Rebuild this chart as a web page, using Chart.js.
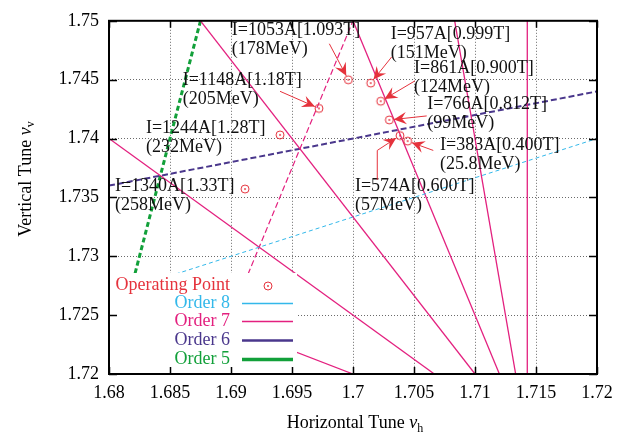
<!DOCTYPE html>
<html><head><meta charset="utf-8">
<script src="https://cdn.jsdelivr.net/npm/chart.js@4/dist/chart.umd.min.js"></script>
<style>html,body{margin:0;padding:0;background:#fff;}#wrap{width:628px;height:434px;position:relative;}</style>
</head><body><div id="wrap"><canvas id="c"></canvas></div>
<script>
// ---------- data ----------
const xTickValues = [1.68, 1.685, 1.69, 1.695, 1.70, 1.705, 1.71, 1.715, 1.72];
const xTickLabels = ['1.68', '1.685', '1.69', '1.695', '1.7', '1.705', '1.71', '1.715', '1.72'];
const yTickValues = [1.72, 1.725, 1.73, 1.735, 1.74, 1.745, 1.75];
const yTickLabels = ['1.72', '1.725', '1.73', '1.735', '1.74', '1.745', '1.75'];

// operating points
const pointCurrent = ['I=383A[0.400T]', 'I=574A[0.600T]', 'I=766A[0.812T]', 'I=861A[0.900T]', 'I=957A[0.999T]',
                      'I=1053A[1.093T]', 'I=1148A[1.18T]', 'I=1244A[1.28T]', 'I=1340A[1.33T]'];
const pointEnergy = ['(25.8MeV)', '(57MeV)', '(99MeV)', '(124MeV)', '(151MeV)', '(178MeV)', '(205MeV)', '(232MeV)', '(258MeV)'];
const tuneH = [1.70448, 1.70385, 1.70298, 1.70227, 1.70145, 1.69962, 1.69721, 1.69402, 1.69115];
const tuneV = [1.73978, 1.74025, 1.74158, 1.74317, 1.74471, 1.74499, 1.74256, 1.74031, 1.73571];

// resonance lines (endpoints in tune space)
const order5H = [1.68, 1.6875];      const order5V = [1.72, 1.75];
const order6H = [1.68, 1.72];        const order6V = [1.736, 1.744];
const order8H = [1.68, 1.72];        const order8V = [1.726667, 1.74];
const order7SolidH = [[1.714286, 1.714286], [1.708333, 1.713333], [1.70, 1.712], [1.6875, 1.71], [1.68, 1.706667], [1.68, 1.70]];
const order7SolidV = [[1.72, 1.75], [1.75, 1.72], [1.75, 1.72], [1.75, 1.72], [1.74, 1.72], [1.728, 1.72]];
const order7DashedH = [1.688, 1.70]; const order7DashedV = [1.72, 1.75];

// ---------- annotation placement (label anchors / arrow tails, tune space) ----------
const labelAnchor = [[1.70713, 1.73941], [1.70016, 1.73594], [1.70609, 1.74295], [1.70500, 1.74596], [1.70309, 1.74889],
                     [1.69006, 1.74916], [1.68604, 1.74499], [1.68303, 1.74087], [1.68049, 1.73594]];
const arrowPath = [[[1.70658, 1.73899]], [[1.70199, 1.73649], [1.70199, 1.73899]], [[1.70604, 1.74192]], [[1.70508, 1.74490]],
                   [[1.70317, 1.74693]], [[1.69806, 1.74805]], [[1.69402, 1.74401]], null, null];

// ---------- styles ----------
const RED = '#e5323c', CYAN = '#33b8ea', MAG = '#e3207f', PURP = '#4a378c', GREEN = '#12a03a';
const FONT = "'Liberation Serif', 'Times New Roman', serif";

const ptCanvas = document.createElement('canvas');
ptCanvas.width = 12; ptCanvas.height = 12;
(function () {
  const g = ptCanvas.getContext('2d');
  g.strokeStyle = RED; g.lineWidth = 1;
  g.beginPath(); g.arc(6, 6, 4, 0, Math.PI * 2); g.stroke();
  g.fillStyle = RED; g.beginPath(); g.arc(6, 6, 0.9, 0, Math.PI * 2); g.fill();
})();

function seg(h, v) { return [{x: h[0], y: v[0]}, {x: h[1], y: v[1]}]; }
function lineDs(h, v, color, width, dash) {
  return {data: seg(h, v), showLine: true, pointRadius: 0, borderColor: color, borderWidth: width,
          borderDash: dash || [], fill: false, backgroundColor: color};
}

const datasets = [
  {label: 'Operating Point', data: tuneH.map((h, i) => ({x: h, y: tuneV[i]})), showLine: false,
   pointStyle: ptCanvas, pointRadius: 5},
  lineDs(order8H, order8V, CYAN, 1, [4, 3]),
];
order7SolidH.forEach((h, i) => datasets.push(lineDs(h, order7SolidV[i], MAG, 1.3)));
datasets.push(lineDs(order7DashedH, order7DashedV, MAG, 1.2, [6, 3]));
datasets.push(lineDs(order6H, order6V, PURP, 2, [6, 3]));
datasets.push(lineDs(order5H, order5V, GREEN, 3, [5, 3]));

function arrowHead(ctx, x0, y0, x1, y1) {
  const a = Math.atan2(y1 - y0, x1 - x0), L = 14, W = 0.45, B = 8;
  ctx.beginPath();
  ctx.moveTo(x1, y1);
  ctx.lineTo(x1 - L * Math.cos(a - W), y1 - L * Math.sin(a - W));
  ctx.lineTo(x1 - B * Math.cos(a), y1 - B * Math.sin(a));
  ctx.lineTo(x1 - L * Math.cos(a + W), y1 - L * Math.sin(a + W));
  ctx.closePath(); ctx.fill();
}

const overlay = {
  id: 'overlay',
  afterDatasetsDraw(chart) {
    const ctx = chart.ctx, xs = chart.scales.x, ys = chart.scales.y, ca = chart.chartArea;
    ctx.save();
    // opaque key box
    const bx = ca.left, by = ca.bottom - 101, bw = 188, bh = 101;
    ctx.fillStyle = '#fff'; ctx.fillRect(bx, by, bw, bh);
    const rows = [12, 30, 48, 67, 86].map(d => Math.round(by + d) + 0.5);
    const tx = bx + 121, s0 = bx + 133, s1 = bx + 184;
    ctx.font = '18px ' + FONT; ctx.textAlign = 'right'; ctx.textBaseline = 'middle';
    const entries = [['Operating Point', RED, 0], ['Order 8', CYAN, 1.3], ['Order 7', MAG, 1.5], ['Order 6', PURP, 2.5], ['Order 5', GREEN, 3.5]];
    entries.forEach((e, i) => {
      ctx.fillStyle = e[1]; ctx.fillText(e[0], tx, rows[i]);
      if (e[2] === 0) {
        ctx.drawImage(ptCanvas, Math.round((s0 + s1) / 2) - 6, Math.round(rows[i]) - 6);
      } else {
        ctx.strokeStyle = e[1]; ctx.lineWidth = e[2]; ctx.setLineDash([]);
        ctx.beginPath(); ctx.moveTo(s0, rows[i]); ctx.lineTo(s1, rows[i]); ctx.stroke();
      }
    });
    // labels
    ctx.textAlign = 'left'; ctx.fillStyle = '#111';
    pointCurrent.forEach((t, i) => {
      const px = xs.getPixelForValue(labelAnchor[i][0]), py = ys.getPixelForValue(labelAnchor[i][1]);
      ctx.fillText(t, px, py);
      ctx.fillText(pointEnergy[i], px, py + 19);
    });
    // arrows
    ctx.strokeStyle = RED; ctx.fillStyle = RED; ctx.lineWidth = 1;
    arrowPath.forEach((p, i) => {
      if (!p) return;
      const pts = p.map(q => [xs.getPixelForValue(q[0]), ys.getPixelForValue(q[1])]);
      const cx = xs.getPixelForValue(tuneH[i]), cy = ys.getPixelForValue(tuneV[i]);
      const last = pts[pts.length - 1];
      const d = Math.hypot(cx - last[0], cy - last[1]);
      const ex = cx - (cx - last[0]) / d * 4.5, ey = cy - (cy - last[1]) / d * 4.5;
      ctx.beginPath(); ctx.moveTo(pts[0][0], pts[0][1]);
      for (let k = 1; k < pts.length; k++) ctx.lineTo(pts[k][0], pts[k][1]);
      ctx.lineTo(ex, ey); ctx.stroke();
      arrowHead(ctx, last[0], last[1], ex, ey);
    });
    ctx.restore();
  },
  afterDraw(chart) {
    const ctx = chart.ctx, xs = chart.scales.x, ys = chart.scales.y, ca = chart.chartArea;
    ctx.save();
    // ticks (inward, mirrored)
    ctx.strokeStyle = '#000'; ctx.lineWidth = 1.5; ctx.setLineDash([]);
    ctx.beginPath();
    xTickValues.forEach(v => {
      const x = Math.round(xs.getPixelForValue(v)) + 0.5;
      ctx.moveTo(x, ca.bottom); ctx.lineTo(x, ca.bottom - 7);
      ctx.moveTo(x, ca.top); ctx.lineTo(x, ca.top + 7);
    });
    yTickValues.forEach(v => {
      const y = Math.round(ys.getPixelForValue(v)) + 0.5;
      ctx.moveTo(ca.left, y); ctx.lineTo(ca.left + 8, y);
      ctx.moveTo(ca.right, y); ctx.lineTo(ca.right - 8, y);
    });
    ctx.stroke();
    // border
    ctx.lineWidth = 2;
    ctx.strokeRect(ca.left, ca.top, ca.right - ca.left, ca.bottom - ca.top);
    // axis titles
    ctx.fillStyle = '#000'; ctx.textBaseline = 'alphabetic'; ctx.textAlign = 'left';
    const drawTitle = (main, sub, cx, cy) => {
      ctx.font = '18px ' + FONT; const w1 = ctx.measureText(main).width;
      ctx.font = 'italic 18px ' + FONT; const w2 = ctx.measureText('ν').width;
      ctx.font = '12px ' + FONT; const w3 = ctx.measureText(sub).width;
      let x = cx - (w1 + w2 + w3) / 2;
      ctx.font = '18px ' + FONT; ctx.fillText(main, x, cy); x += w1;
      ctx.font = 'italic 18px ' + FONT; ctx.fillText('ν', x, cy); x += w2;
      ctx.font = '12px ' + FONT; ctx.fillText(sub, x, cy + 3.5);
    };
    drawTitle('Horizontal Tune ', 'h', (ca.left + ca.right) / 2 + 2, 428);
    ctx.save(); ctx.translate(30.5, 0); ctx.rotate(-Math.PI / 2);
    drawTitle('Vertical Tune ', 'v', -179, 0);
    ctx.restore();
    ctx.restore();
  }
};

const tickFont = {family: FONT, size: 18, lineHeight: 1.2};
new Chart(document.getElementById('c'), {
  type: 'scatter',
  data: {datasets},
  options: {
    responsive: true, maintainAspectRatio: false, animation: false,
    layout: {padding: {left: 0, right: 31, top: 15, bottom: 0}},
    plugins: {legend: {display: false}, tooltip: {enabled: false}},
    scales: {
      x: {
        type: 'linear', min: 1.68, max: 1.72,
        afterBuildTicks: s => { s.ticks = xTickValues.map(v => ({value: v})); },
        afterFit: s => { s.height = 60; },
        ticks: {callback: (v, i) => xTickLabels[i], font: tickFont, color: '#000', padding: 8, maxRotation: 0, autoSkip: false},
        grid: {color: '#6a6a6a', lineWidth: 1, drawTicks: false, tickLength: 0},
        border: {display: false, dash: [1, 2]}
      },
      y: {
        type: 'linear', min: 1.72, max: 1.75,
        afterBuildTicks: s => { s.ticks = yTickValues.map(v => ({value: v})); },
        afterFit: s => { s.width = 109; },
        ticks: {callback: (v, i) => yTickLabels[i], font: tickFont, color: '#000', padding: 10, autoSkip: false},
        grid: {color: '#6a6a6a', lineWidth: 1, drawTicks: false, tickLength: 0},
        border: {display: false, dash: [1, 2]}
      }
    }
  },
  plugins: [overlay]
});
</script></body></html>
